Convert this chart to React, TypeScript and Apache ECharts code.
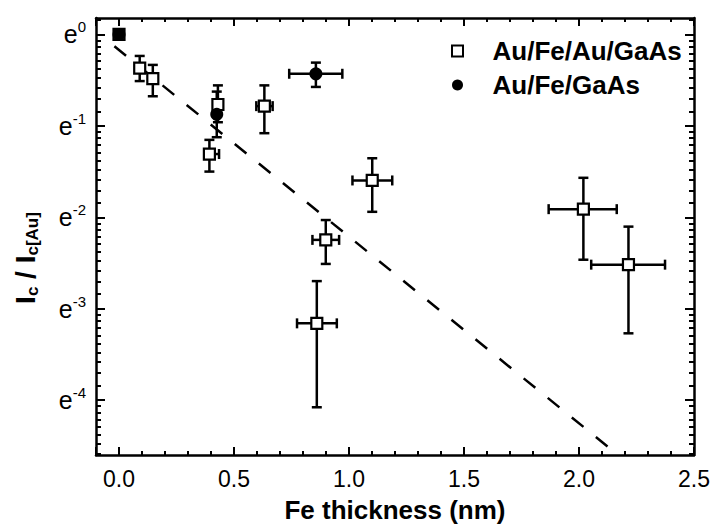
import React, { useEffect, useRef } from 'react';
import * as echarts from 'echarts';

// Au/Fe/Au/GaAs (open squares) — y values are natural logs of Ic/Ic[Au]
const sqX = [0, 0.09, 0.147, 0.43, 0.393, 0.632, 0.899, 0.86, 1.101, 2.019, 2.215];
const sqY = [0, -0.368, -0.484, -0.766, -1.308, -0.784, -2.247, -3.16, -1.597, -1.911, -2.518];
const sqYLo = [0, -0.51, -0.676, -0.96, -1.5, -1.08, -2.51, -4.078, -1.94, -2.464, -3.269];
const sqYHi = [0, -0.235, -0.333, -0.557, -1.153, -0.557, -2.03, -2.698, -1.354, -1.568, -2.102];
const sqXLo = [0, 0.09, 0.147, 0.43, 0.393, 0.597, 0.841, 0.774, 1.015, 1.868, 2.053];
const sqXHi = [0, 0.09, 0.147, 0.43, 0.435, 0.668, 0.957, 0.947, 1.188, 2.164, 2.374];

// Au/Fe/GaAs (filled circles)
const ciX = [0, 0.425, 0.856];
const ciY = [0, -0.874, -0.43];
const ciYLo = [0, -1.124, -0.574];
const ciYHi = [0, -0.625, -0.308];
const ciXLo = [0, 0.425, 0.74];
const ciXHi = [0, 0.425, 0.971];

// dashed fit line endpoints
const fitX = [-0.02, 2.17];
const fitY = [-0.13, -4.6];

const xMin = -0.1;
const xMax = 2.5;
const yMin = -4.6;
const yMax = 0.18;
const yMajors = [-4, -3, -2, -1, 0];

const FONT = 'Liberation Sans, Arial, sans-serif';

export default function App() {
  const ref = useRef<HTMLDivElement>(null);
  useEffect(() => {
    const chart = echarts.init(ref.current!, null, { renderer: 'svg' });

    // minor ticks: linear subdivisions between e^n and e^(n+1), shown on the ln scale
    const minorY: number[] = [];
    [-5, ...yMajors].forEach((n) => {
      const lo = Math.exp(n);
      const hi = Math.exp(n + 1);
      for (let k = 1; k <= 9; k++) {
        const v = Math.log(lo + (k * (hi - lo)) / 10);
        if (v > yMin && v < yMax) minorY.push(v);
      }
    });

    const errData: number[][] = [];
    sqX.forEach((x, i) => errData.push([x, sqY[i], sqXLo[i], sqXHi[i], sqYLo[i], sqYHi[i]]));
    ciX.forEach((x, i) => errData.push([x, ciY[i], ciXLo[i], ciXHi[i], ciYLo[i], ciYHi[i]]));

    const lineStyle = { stroke: '#000', lineWidth: 2.5 };
    const cap = 5;

    const axisCommonX = {
      type: 'value' as const,
      min: xMin,
      max: xMax,
      splitNumber: 5,
      axisLine: { show: true, onZero: false, lineStyle: { color: '#000', width: 2.5 } },
      axisTick: { show: true, inside: true, length: 8, lineStyle: { color: '#000', width: 2 } },
      minorTick: { show: true, splitNumber: 5, length: 4, lineStyle: { color: '#000', width: 2 } },
      splitLine: { show: false },
    };
    const axisCommonY = {
      type: 'value' as const,
      min: yMin,
      max: yMax,
      splitNumber: 5,
      axisLine: { show: true, onZero: false, lineStyle: { color: '#000', width: 2.5 } },
      axisTick: { show: true, inside: true, length: 9, customValues: yMajors, lineStyle: { color: '#000', width: 2 } },
      splitLine: { show: false },
    };
    const minorAxisY = {
      type: 'value' as const,
      min: yMin,
      max: yMax,
      axisLine: { show: false, onZero: false },
      axisTick: { show: true, inside: true, length: 5, customValues: minorY, lineStyle: { color: '#000', width: 2 } },
      axisLabel: { show: false },
      splitLine: { show: false },
    };

    const option: any = {
      animation: false,
      backgroundColor: '#fff',
      grid: { left: 96, right: 16, top: 18, bottom: 69 },
      xAxis: [
        {
          ...axisCommonX,
          position: 'bottom',
          name: 'Fe thickness (nm)',
          nameLocation: 'middle',
          nameGap: 42,
          nameTextStyle: { fontFamily: FONT, fontWeight: 'bold', fontSize: 26, color: '#000' },
          axisLabel: {
            margin: 12,
            fontFamily: FONT,
            fontSize: 23,
            color: '#000',
            formatter: (v: number) =>
              v >= 0 && Math.abs(v * 2 - Math.round(v * 2)) < 1e-9 ? v.toFixed(1) : '',
          },
        },
        { ...axisCommonX, position: 'top', axisLabel: { show: false } },
      ],
      yAxis: [
        {
          ...axisCommonY,
          position: 'left',
          axisLabel: {
            margin: 10,
            customValues: yMajors,
            fontFamily: FONT,
            color: '#000',
            formatter: (v: number) => (Number.isInteger(v) ? `{e|e}{s|${v}}` : ''),
            rich: {
              e: { fontFamily: FONT, fontSize: 25, lineHeight: 30, color: '#000' },
              s: { fontFamily: FONT, fontSize: 15, lineHeight: 15, verticalAlign: 'top', color: '#000' },
            },
          },
        },
        { ...axisCommonY, position: 'right', axisLabel: { show: false } },
        { ...minorAxisY, position: 'left' },
        { ...minorAxisY, position: 'right' },
      ],
      legend: {
        orient: 'vertical',
        left: 446,
        top: 31,
        itemWidth: 60,
        itemHeight: 11,
        itemGap: 4,
        selectedMode: false,
        textStyle: { fontFamily: FONT, fontWeight: 'bold', fontSize: 26, color: '#000', lineHeight: 30 },
        data: [
          {
            name: 'Au/Fe/Au/GaAs',
            icon: 'path://M0,0H10V10H0Z',
            itemStyle: { color: '#fff', borderColor: '#000', borderWidth: 2 },
          },
          { name: 'Au/Fe/GaAs', icon: 'circle', itemStyle: { color: '#000' } },
        ],
      },
      graphic: [
        {
          type: 'text',
          x: 25,
          y: 258,
          rotation: Math.PI / 2,
          style: {
            text: '{b|I}{s|c}{b| / I}{s|c[Au]}',
            align: 'center',
            verticalAlign: 'middle',
            fill: '#000',
            rich: {
              b: { fontFamily: FONT, fontWeight: 'bold', fontSize: 28, lineHeight: 32, fill: '#000' },
              s: {
                fontFamily: FONT,
                fontWeight: 'bold',
                fontSize: 17,
                lineHeight: 17,
                verticalAlign: 'bottom',
                fill: '#000',
              },
            },
          },
        },
      ],
      series: [
        {
          type: 'custom',
          name: 'err',
          silent: true,
          z: 2,
          data: errData,
          renderItem: (params: any, api: any) => {
            const x = api.value(0);
            const y = api.value(1);
            const xlo = api.value(2);
            const xhi = api.value(3);
            const ylo = api.value(4);
            const yhi = api.value(5);
            const children: any[] = [];
            if (ylo !== yhi) {
              const a = api.coord([x, ylo]);
              const b = api.coord([x, yhi]);
              children.push({ type: 'line', shape: { x1: a[0], y1: a[1], x2: b[0], y2: b[1] }, style: lineStyle });
              children.push({ type: 'line', shape: { x1: a[0] - cap, y1: a[1], x2: a[0] + cap, y2: a[1] }, style: lineStyle });
              children.push({ type: 'line', shape: { x1: b[0] - cap, y1: b[1], x2: b[0] + cap, y2: b[1] }, style: lineStyle });
            }
            if (xlo !== xhi) {
              const a = api.coord([xlo, y]);
              const b = api.coord([xhi, y]);
              children.push({ type: 'line', shape: { x1: a[0], y1: a[1], x2: b[0], y2: b[1] }, style: lineStyle });
              if (xlo !== x)
                children.push({ type: 'line', shape: { x1: a[0], y1: a[1] - cap, x2: a[0], y2: a[1] + cap }, style: lineStyle });
              if (xhi !== x)
                children.push({ type: 'line', shape: { x1: b[0], y1: b[1] - cap, x2: b[0], y2: b[1] + cap }, style: lineStyle });
            }
            return { type: 'group', children };
          },
        },
        {
          type: 'line',
          name: 'fit',
          z: 3,
          showSymbol: false,
          symbol: 'none',
          silent: true,
          data: fitX.map((x, i) => [x, fitY[i]]),
          lineStyle: { color: '#000', width: 2.5, type: [15, 16] },
        },
        {
          type: 'scatter',
          name: 'Au/Fe/Au/GaAs',
          z: 4,
          symbol: 'rect',
          symbolSize: 11,
          itemStyle: { color: '#fff', borderColor: '#000', borderWidth: 2.2, opacity: 1 },
          data: sqX.map((x, i) => [x, sqY[i]]),
        },
        {
          type: 'scatter',
          name: 'Au/Fe/GaAs',
          z: 5,
          symbol: 'circle',
          symbolSize: 13,
          itemStyle: { color: '#000', opacity: 1 },
          data: ciX.map((x, i) => [x, ciY[i]]),
        },
      ],
    };

    chart.setOption(option);
    return () => chart.dispose();
  }, []);
  return <div ref={ref} style={{ position: 'absolute', left: 0, top: 0, width: 713, height: 528 }} />;
}
